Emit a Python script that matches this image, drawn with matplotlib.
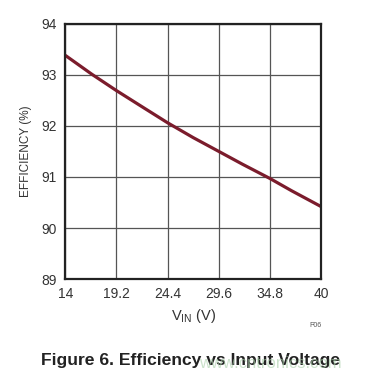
import matplotlib
matplotlib.use("Agg")
import matplotlib.pyplot as plt

plt.rcParams['font.family'] = ['Liberation Sans', 'DejaVu Sans']

# input voltage (V) and efficiency (%)
vin = [14, 16.7, 19.2, 22, 24.4, 27, 29.6, 32, 34.8, 37, 40]
eff = [93.38, 93.01, 92.69, 92.35, 92.06, 91.77, 91.5, 91.25, 90.97, 90.73, 90.42]
xticks = [14, 19.2, 24.4, 29.6, 34.8, 40]
xticklabels = ['14', '19.2', '24.4', '29.6', '34.8', '40']
yticks = [89, 90, 91, 92, 93, 94]

fig = plt.figure(figsize=(3.76, 3.79), dpi=100)
ax = fig.add_axes([0.1737, 0.2635, 0.6803, 0.674])

ax.plot(vin, eff, color='#7b1c2c', lw=2.3, solid_capstyle='butt')
ax.set_xlim(14, 40)
ax.set_ylim(89, 94)
ax.set_xticks(xticks)
ax.set_xticklabels(xticklabels)
ax.set_yticks(yticks)
ax.grid(True, color='#555555', lw=0.9)
ax.tick_params(length=0, labelsize=10, colors='#333333', pad=6)
for s in ax.spines.values():
    s.set_linewidth(1.6)
    s.set_color('#222222')

ax.set_xlabel(r'V$_{\mathregular{IN}}$ (V)', fontsize=10.5, color='#333333', labelpad=4)
ax.set_ylabel('EFFICIENCY (%)', fontsize=8.5, color='#333333', labelpad=7)

fig.text(0.856, 0.137, 'F06', fontsize=5, color='#555555', ha='right')
fig.text(0.508, 0.037, 'Figure 6. Efficiency vs Input Voltage', fontsize=12.6,
         fontweight='bold', color='#222222', ha='center', va='baseline')
fig.text(0.72, 0.03, 'www.cntronics.com', fontsize=12, color='#a9d0a9',
         alpha=0.6, ha='center', va='baseline')

fig.savefig('out.png', dpi=100)
